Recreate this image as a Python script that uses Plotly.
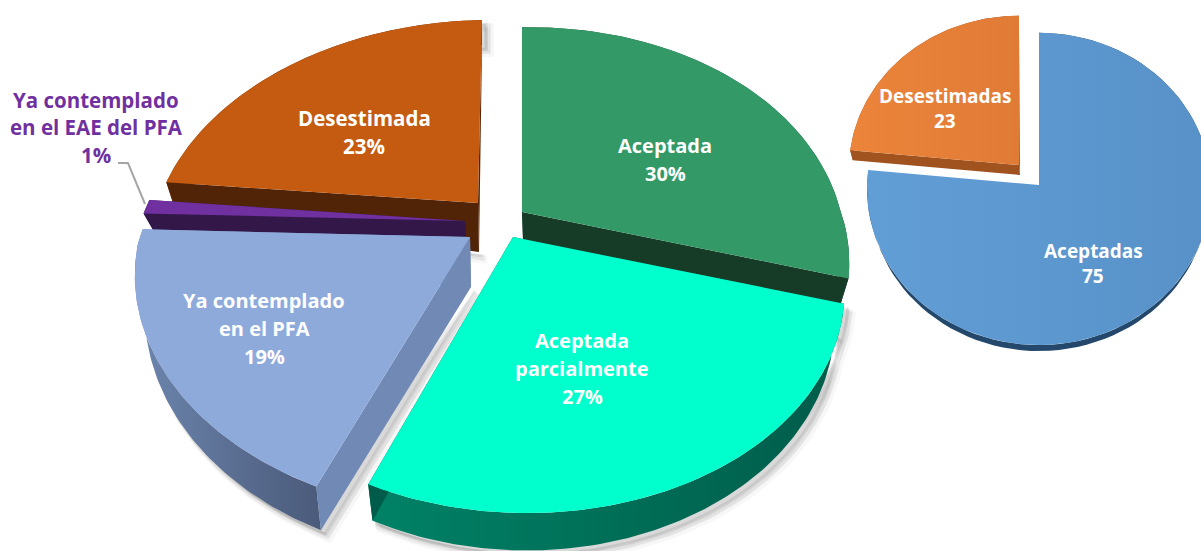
import numpy as np
import plotly.graph_objects as go

# ---- data ----
left_categories = ["Aceptada", "Aceptada parcialmente", "Ya contemplado en el PFA",
                   "Ya contemplado en el EAE del PFA", "Desestimada"]
left_percent = [30, 27, 19, 1, 23]
right_categories = ["Aceptadas", "Desestimadas"]
right_counts = [75, 23]

# ---- drawing style: perspective pie geometry in pixel units ----
LEFT = dict(rx=326, ry=221, k=0.196, delta=-1.6, sk=18, scale=0.97, depth=30)
RIGHT = dict(rx=172, ry=156, k=0.025, delta=0, sk=0, scale=0.985, depth=6)

left_style = {
    "Aceptada": dict(c=(522, 212), top="#339966", wall="#1d5238", cut="#163c28", apexd=28, rx=317, noshadow=True),
    "Aceptada parcialmente": dict(c=(513, 237), top="#00ffcc", wall=("#008266", "#005c4a"), cut="#005c4a",
                                  apexd=30, sk=23, ry=222, rx=320),
    "Ya contemplado en el PFA": dict(c=(470, 237), top="#8eaadb", wall=("#6d86ae", "#4a5a7a"), cut="#7089b5",
                                     apexd=50, rx=332, sk=20, ry=224, depth=36),
    "Ya contemplado en el EAE del PFA": dict(c=(465, 221), top="#7030a0", wall="#321748", cut="#321748",
                                             apexd=18, depth=17, noshadow=True),
    "Desestimada": dict(c=(478, 203), top="#c55a11", wall="#703509", cut="#522407", apexd=49, rimdx=4, ry=219),
}
right_style = {
    "Aceptadas": dict(c=(1039, 185), top=("#629ed6", "#5791c8"), wall="#24486b", cut="#24486b", apexd=0, nocut=True),
    "Desestimadas": dict(c=(1019, 165), top=("#ec843a", "#e07b36"), wall="#a0521f", cut="#a0521f", apexd=10,
                         depth=10, rx=170, ry=153),
}

fig = go.Figure()


def add_poly(xs, ys, color, line=0, linecolor=None):
    kw = {}
    if isinstance(color, tuple):
        kw["fillgradient"] = dict(type="horizontal", colorscale=[[0, color[0]], [1, color[1]]])
    else:
        kw["fillcolor"] = color
    fig.add_trace(go.Scatter(
        x=list(xs), y=list(ys), mode="lines", fill="toself",
        line=dict(width=line, color=linecolor or "rgba(0,0,0,0)"),
        hoverinfo="skip", showlegend=False, **kw))


def point(theta, g, c):
    t = np.radians(theta)
    v = np.cos(t)
    den = 1 + g["k"] * v
    x = g["rx"] * np.sin(t) / den + g["sk"] * np.maximum(-v, 0)
    y = -g["ry"] * np.cos(t + np.radians(g["delta"])) / den
    return c[0] + x, c[1] + y, den


def draw_pie(values, cats, styles, g, shadow=True):
    total = sum(values)
    start = 0.0
    parts = []
    for cat, val in zip(cats, values):
        sweep = val / total * 360
        parts.append((cat, start, start + sweep))
        start += sweep
    order = sorted(parts, key=lambda p: styles[p[0]].get("z", 0))
    for cat, a, b in order:
        st = styles[cat]
        gg = {**g, **{k: st[k] for k in ("rx", "ry", "sk") if k in st}}
        c = st["c"]
        rim_c = (c[0] + st.get("rimdx", 0), c[1])
        th = np.linspace(a, b, 90)
        x, y, den = point(th, gg, rim_c)
        d = st.get("depth", g["depth"])
        bx = rim_c[0] + (x - rim_c[0]) * g["scale"]
        by = y + d / den
        ax, ay = c[0] + 1, c[1] + st["apexd"]
        if shadow and not st.get("noshadow"):
            sx = np.r_[x, bx[::-1], ax]
            sy = np.r_[y, by[::-1], ay]
            for off, wid, alpha in ((8, 8, 0.03), (6, 6, 0.05), (4, 3, 0.07)):
                add_poly(sx + off, sy + off, f"rgba(0,0,0,{alpha})", line=wid,
                         linecolor=f"rgba(0,0,0,{alpha})")
        # outer wall
        add_poly(np.r_[x, bx[::-1]], np.r_[y, by[::-1]], st["wall"])
        # cut faces
        if not st.get("nocut"):
            for i in (0, -1):
                add_poly([c[0], x[i], bx[i], ax], [c[1], y[i], by[i], ay], st["cut"])
        # top surface
        add_poly(np.r_[c[0], x, c[0]], np.r_[c[1], y, c[1]], st["top"])


# drawing order back to front
for name, z in zip(left_categories, [1, 4, 3, 2, 0]):
    left_style[name]["z"] = z
draw_pie(left_percent, left_categories, left_style, LEFT)
right_style["Aceptadas"]["z"] = 0
right_style["Desestimadas"]["z"] = 1
draw_pie(right_counts, right_categories, right_style, RIGHT, shadow=False)

# leader line for the 1 % slice
leader_x = [118, 128, 145]
leader_y = [163, 163, 204]
fig.add_trace(go.Scatter(x=leader_x, y=leader_y, mode="lines", hoverinfo="skip", showlegend=False,
                         line=dict(color="#a6a6a6", width=2)))

# ---- labels ----
WHITE, PURPLE = "#ffffff", "#7030a0"
label_lines = [
    ("Desestimada", 364, 118, WHITE, 20.5), ("23%", 364, 146, WHITE, 20.5),
    ("Aceptada", 665, 145, WHITE, 20), ("30%", 665, 173, WHITE, 20),
    ("Aceptada", 582, 340, WHITE, 20), ("parcialmente", 582, 368, WHITE, 20), ("27%", 582, 396, WHITE, 20),
    ("Ya contemplado", 264, 300, WHITE, 20), ("en el PFA", 264, 328, WHITE, 20), ("19%", 264, 356, WHITE, 20),
    ("Ya contemplado", 96, 100, PURPLE, 20.5), ("en el EAE del PFA", 96, 127, PURPLE, 20.5), ("1%", 96, 155, PURPLE, 20.5),
    ("Desestimadas", 945, 96, WHITE, 19), ("23", 945, 121, WHITE, 19),
    ("Aceptadas", 1093, 251, WHITE, 19), ("75", 1093, 276, WHITE, 19),
]
for text, x, y, col, size in label_lines:
    fig.add_annotation(x=x, y=y, text=f"<b>{text}</b>", showarrow=False,
                       font=dict(family="Open Sans", size=size, color=col),
                       xanchor="center", yanchor="middle")

fig.update_layout(
    width=1201, height=551, margin=dict(l=0, r=0, t=0, b=0),
    paper_bgcolor="white", plot_bgcolor="white", showlegend=False,
    xaxis=dict(range=[0, 1201], visible=False, fixedrange=True),
    yaxis=dict(range=[551, 0], visible=False, fixedrange=True),
)
fig.write_html("out.html", config=dict(displayModeBar=False),
               post_script="document.body.style.margin='0';document.body.style.overflow='hidden';")
